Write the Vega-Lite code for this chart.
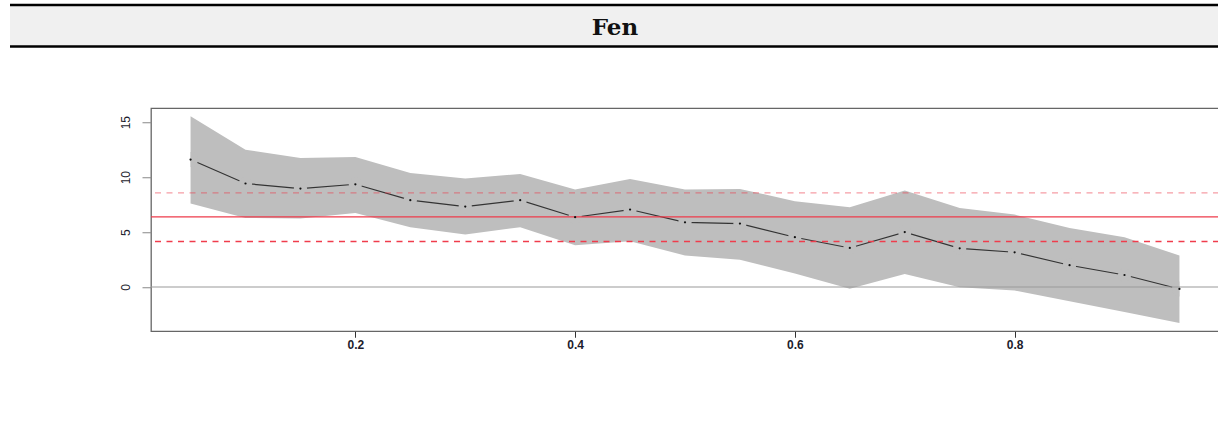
{
  "$schema": "https://vega.github.io/schema/vega-lite/v6.json",
  "background": "white",
  "padding": {"left": 8, "top": 3, "right": 0, "bottom": 5},
  "bounds": "flush",
  "spacing": 61.25,
  "config": {"view": {"stroke": null}},
  "datasets": {
    "series": [
      {"x": 0.05, "mid": 11.6, "lo": 7.6, "hi": 15.55},
      {"x": 0.10, "mid": 9.42, "lo": 6.28, "hi": 12.5},
      {"x": 0.15, "mid": 8.96, "lo": 6.23, "hi": 11.75},
      {"x": 0.20, "mid": 9.35, "lo": 6.74, "hi": 11.84},
      {"x": 0.25, "mid": 7.9, "lo": 5.44, "hi": 10.38},
      {"x": 0.30, "mid": 7.32, "lo": 4.77, "hi": 9.87},
      {"x": 0.35, "mid": 7.9, "lo": 5.44, "hi": 10.29},
      {"x": 0.40, "mid": 6.35, "lo": 3.8, "hi": 8.87},
      {"x": 0.45, "mid": 7.05, "lo": 4.16, "hi": 9.84},
      {"x": 0.50, "mid": 5.89, "lo": 2.86, "hi": 8.87},
      {"x": 0.55, "mid": 5.77, "lo": 2.49, "hi": 8.93},
      {"x": 0.60, "mid": 4.53, "lo": 1.22, "hi": 7.8},
      {"x": 0.65, "mid": 3.55, "lo": -0.15, "hi": 7.26},
      {"x": 0.70, "mid": 5.0, "lo": 1.19, "hi": 8.78},
      {"x": 0.75, "mid": 3.52, "lo": -0.03, "hi": 7.2},
      {"x": 0.80, "mid": 3.16, "lo": -0.33, "hi": 6.59},
      {"x": 0.85, "mid": 1.98, "lo": -1.3, "hi": 5.37},
      {"x": 0.90, "mid": 1.09, "lo": -2.28, "hi": 4.53},
      {"x": 0.95, "mid": -0.18, "lo": -3.28, "hi": 2.86}
    ],
    "refs": [
      {"kind": "zero", "value": 0},
      {"kind": "mean", "value": 6.375},
      {"kind": "upper", "value": 8.56},
      {"kind": "lower", "value": 4.13}
    ]
  },
  "vconcat": [
    {
      "width": 1068,
      "height": 41.5,
      "view": {"stroke": null},
      "data": {"values": [{"label": "Fen"}]},
      "layer": [
        {
          "mark": {"type": "rect", "fill": "#f0f0f0", "clip": false},
          "encoding": {
            "x": {"datum": -0.13202, "type": "quantitative", "scale": {"domain": [0, 1], "nice": false, "zero": false}, "axis": null},
            "x2": {"datum": 1.00094},
            "y": {"datum": 0, "type": "quantitative", "scale": {"domain": [0, 1], "nice": false, "zero": false}, "axis": null},
            "y2": {"datum": 1}
          }
        },
        {
          "mark": {"type": "rule", "color": "black", "strokeWidth": 2.5, "clip": false},
          "encoding": {
            "x": {"datum": -0.13202, "type": "quantitative", "axis": null},
            "x2": {"datum": 1.00094},
            "y": {"datum": 0, "type": "quantitative", "axis": null}
          }
        },
        {
          "mark": {"type": "rule", "color": "black", "strokeWidth": 2.5, "clip": false},
          "encoding": {
            "x": {"datum": -0.13202, "type": "quantitative", "axis": null},
            "x2": {"datum": 1.00094},
            "y": {"datum": 1, "type": "quantitative", "axis": null}
          }
        },
        {
          "mark": {"type": "text", "font": "DejaVu Serif", "fontWeight": "bold", "fontSize": 23, "baseline": "alphabetic", "align": "center", "color": "#111"},
          "encoding": {
            "x": {"datum": 0.43446, "type": "quantitative", "axis": null},
            "y": {"datum": 0.276, "type": "quantitative", "axis": null},
            "text": {"field": "label"}
          }
        }
      ]
    },
    {
      "width": 1068,
      "height": 223,
      "view": {"stroke": "#666666", "strokeWidth": 1.3},
      "data": {"name": "series"},
      "layer": [
        {
          "mark": {"type": "area", "color": "#bebebe", "opacity": 1},
          "encoding": {
            "x": {
              "field": "x", "type": "quantitative",
              "scale": {"domain": [0.014, 0.986], "nice": false, "zero": false},
              "axis": {"values": [0.2, 0.4, 0.6, 0.8], "format": ".1f", "grid": false, "domain": false, "tickColor": "#333333", "tickSize": 6, "labelFontSize": 12, "labelFont": "Liberation Sans", "labelFontWeight": "bold", "labelColor": "#1c1c2c", "labelPadding": 2, "labelFlush": false, "title": null}
            },
            "y": {
              "field": "lo", "type": "quantitative",
              "scale": {"domain": [-4.03, 16.27], "nice": false, "zero": false},
              "axis": {"values": [0, 5, 10, 15], "grid": false, "domain": false, "tickColor": "#888888", "tickSize": 9, "labelAngle": 270, "labelAlign": "center", "labelBaseline": "bottom", "labelPadding": 10, "labelFontSize": 12, "labelFont": "Liberation Sans", "labelColor": "#1c1c2c", "labelFlush": false, "title": null}
            },
            "y2": {"field": "hi"}
          }
        },
        {
          "mark": {"type": "line", "color": "#333333", "strokeWidth": 1.2},
          "encoding": {
            "x": {"field": "x", "type": "quantitative"},
            "y": {"field": "mid", "type": "quantitative"}
          }
        },
        {
          "transform": [{"filter": "datum.x > 0.06 && datum.x < 0.94"}],
          "mark": {"type": "point", "shape": "circle", "filled": true, "color": "#bebebe", "size": 177, "opacity": 1, "strokeWidth": 0},
          "encoding": {
            "x": {"field": "x", "type": "quantitative"},
            "y": {"field": "mid", "type": "quantitative"}
          }
        },
        {
          "transform": [{"filter": "datum.x < 0.06"}],
          "mark": {"type": "point", "shape": "M 0 -1 A 1 1 0 0 1 0 1 Z", "filled": true, "color": "#bebebe", "size": 225, "opacity": 1, "strokeWidth": 0},
          "encoding": {
            "x": {"field": "x", "type": "quantitative"},
            "y": {"field": "mid", "type": "quantitative"}
          }
        },
        {
          "transform": [{"filter": "datum.x > 0.94"}],
          "mark": {"type": "point", "shape": "M 0 -1 A 1 1 0 0 0 0 1 Z", "filled": true, "color": "#bebebe", "size": 225, "opacity": 1, "strokeWidth": 0},
          "encoding": {
            "x": {"field": "x", "type": "quantitative"},
            "y": {"field": "mid", "type": "quantitative"}
          }
        },
        {
          "data": {"name": "refs"},
          "transform": [{"filter": "datum.kind === 'zero'"}],
          "mark": {"type": "rule", "strokeWidth": 1.2, "color": "#9a9a9a"},
          "encoding": {"y": {"field": "value", "type": "quantitative"}}
        },
        {
          "data": {"name": "refs"},
          "transform": [{"filter": "datum.kind === 'mean'"}],
          "mark": {"type": "rule", "strokeWidth": 1.2, "color": "#ee3b4b"},
          "encoding": {"y": {"field": "value", "type": "quantitative"}}
        },
        {
          "data": {"name": "refs"},
          "transform": [{"filter": "datum.kind === 'upper'"}],
          "mark": {"type": "rule", "strokeWidth": 1.3, "color": "#ee3b4b", "opacity": 0.5, "strokeDash": [6, 5.5]},
          "encoding": {"y": {"field": "value", "type": "quantitative"}}
        },
        {
          "data": {"name": "refs"},
          "transform": [{"filter": "datum.kind === 'lower'"}],
          "mark": {"type": "rule", "strokeWidth": 1.5, "color": "#f03c4c", "strokeDash": [6, 5.5]},
          "encoding": {"y": {"field": "value", "type": "quantitative"}}
        },
        {
          "mark": {"type": "point", "shape": "circle", "filled": true, "color": "#111111", "size": 5, "opacity": 1, "strokeWidth": 0},
          "encoding": {
            "x": {"field": "x", "type": "quantitative"},
            "y": {"field": "mid", "type": "quantitative"}
          }
        }
      ]
    }
  ]
}
